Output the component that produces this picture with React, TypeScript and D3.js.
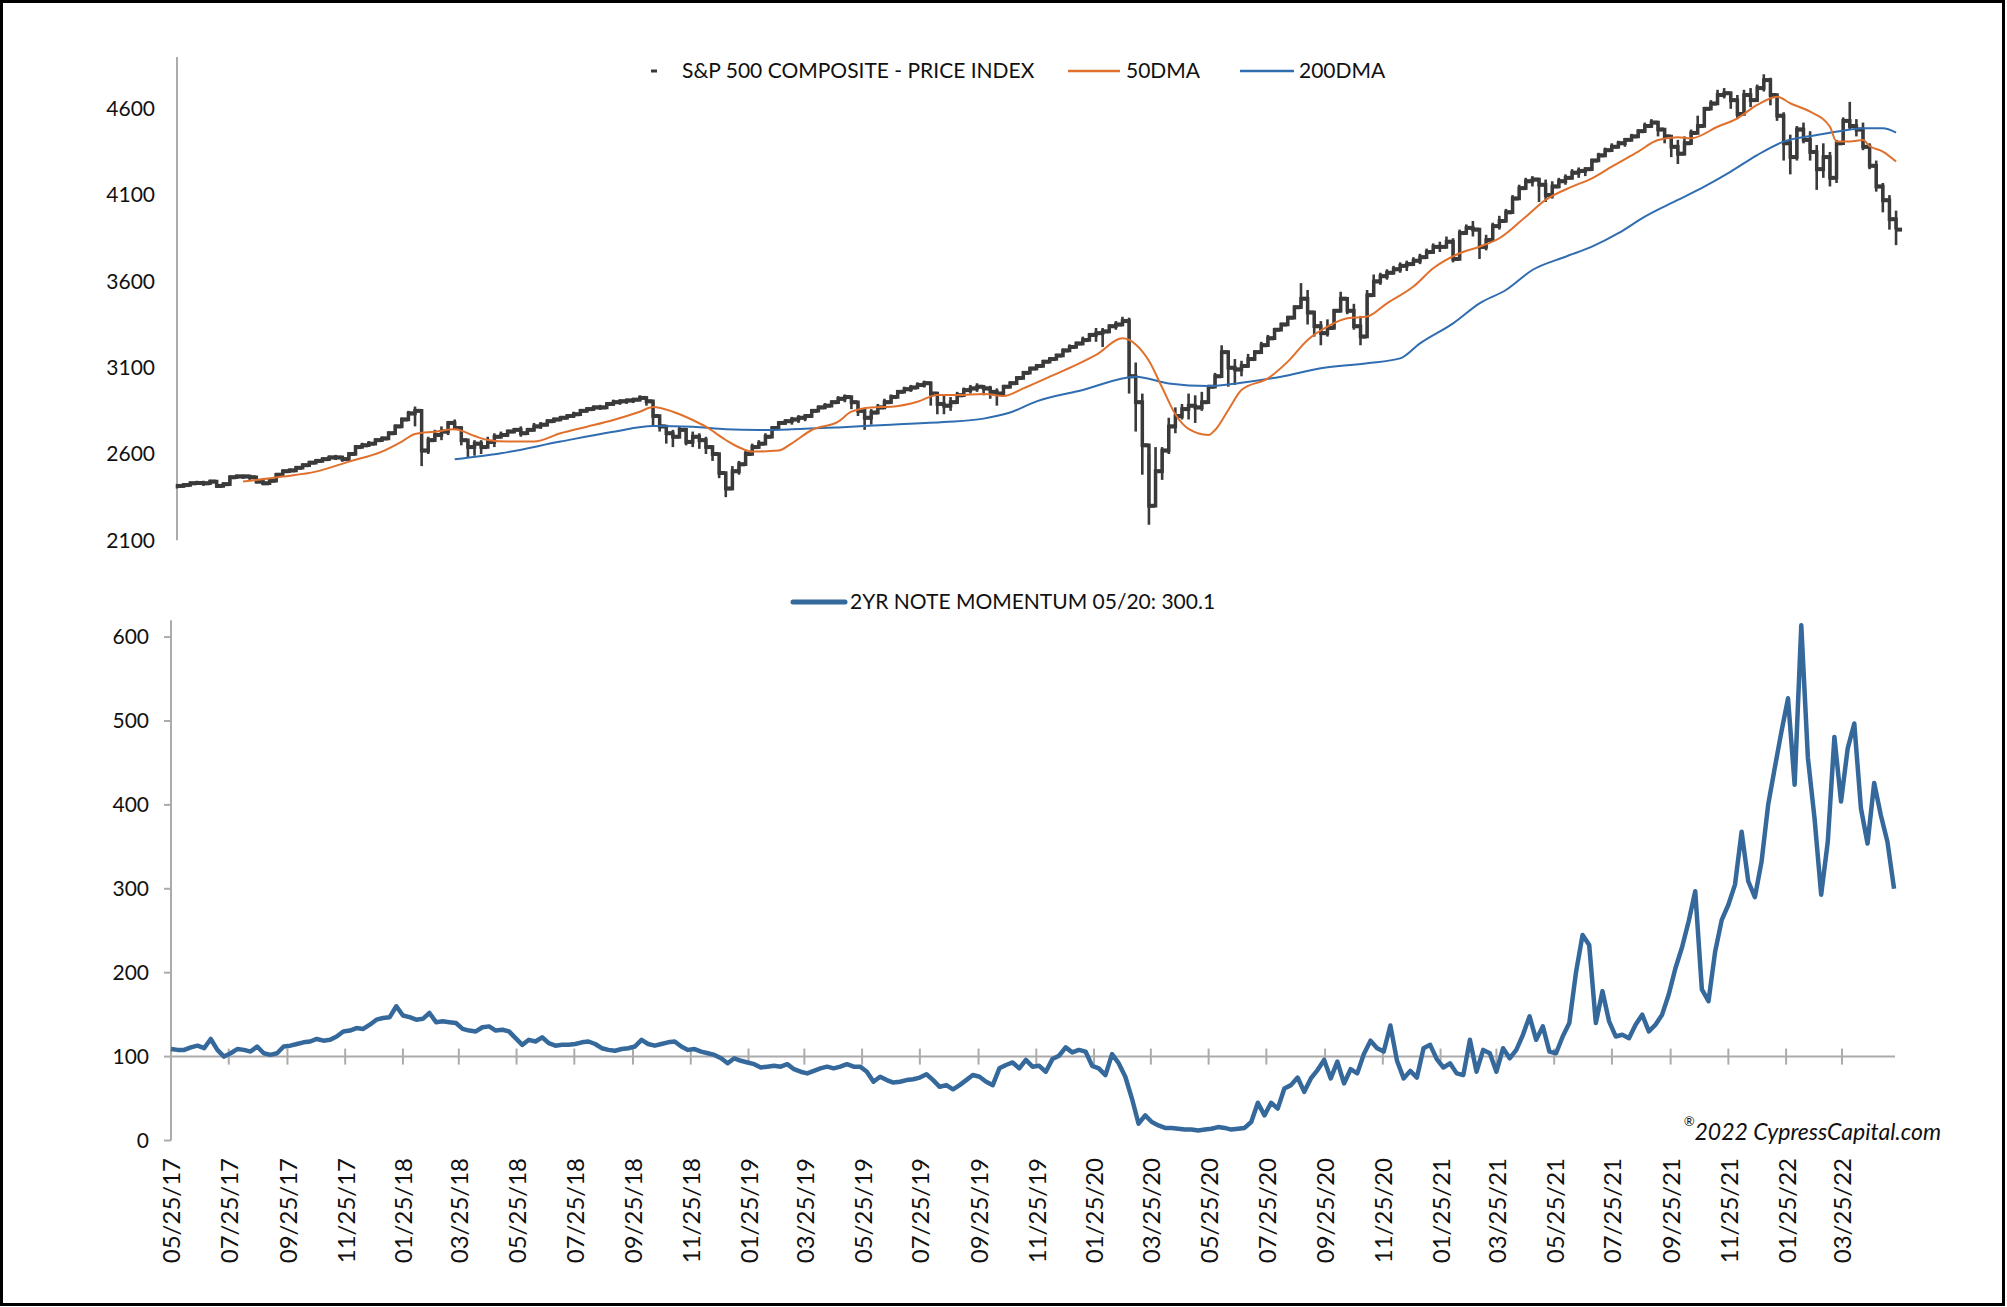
import React, { useEffect } from 'react';
import * as d3 from 'd3';

// weekly samples, week 0 = 05/25/17
const START = new Date(2017, 4, 25);
const END = new Date(2022, 4, 20);

const spxClose = [
  2415, 2420, 2430, 2432, 2430, 2440, 2415, 2425, 2465, 2470,
  2470, 2465, 2440, 2430, 2445, 2480, 2500, 2505, 2520, 2535,
  2550, 2560, 2570, 2580, 2580, 2570, 2600, 2640, 2650, 2660,
  2680, 2690, 2720, 2760, 2800, 2835, 2850, 2620, 2680, 2710,
  2730, 2780, 2750, 2680, 2640, 2660, 2640, 2670, 2700, 2710,
  2730, 2740, 2720, 2740, 2760, 2770, 2790, 2800, 2810, 2820,
  2830, 2850, 2860, 2870, 2870, 2890, 2900, 2905, 2910, 2915,
  2925, 2905, 2820, 2760, 2720, 2700, 2740, 2670, 2700, 2680,
  2640, 2600, 2490, 2400, 2500, 2540, 2600, 2640, 2660, 2700,
  2750, 2780, 2790, 2800, 2810, 2820, 2850, 2870, 2880, 2900,
  2920, 2930, 2900, 2850, 2810, 2840, 2870, 2900, 2930, 2960,
  2975, 2985, 3000, 3010, 2950, 2890, 2880, 2900, 2940, 2970,
  2980, 2990, 2980, 2960, 2950, 2990, 3010, 3040, 3070, 3095,
  3110, 3135, 3150, 3170, 3200, 3220, 3240, 3260, 3290, 3300,
  3310, 3340, 3350, 3370, 3050, 2900, 2650, 2300, 2500, 2620,
  2760, 2820, 2860, 2880, 2870, 2900, 2990, 3050, 3190, 3100,
  3090, 3110, 3150, 3190, 3230, 3270, 3320, 3350, 3390, 3450,
  3500, 3420, 3340, 3300, 3330, 3430, 3500, 3430, 3340, 3280,
  3520, 3600, 3630, 3650, 3670, 3690, 3700, 3720, 3740, 3770,
  3800, 3800, 3830, 3730, 3880, 3910, 3900, 3800, 3840, 3920,
  3950, 4000, 4080, 4140, 4180, 4190, 4160, 4100, 4150, 4180,
  4200, 4230, 4240, 4250, 4300, 4330, 4360, 4380, 4400, 4420,
  4440, 4470, 4500, 4520, 4480, 4440, 4380, 4340, 4400, 4460,
  4500, 4600, 4630, 4680, 4690, 4650, 4570, 4680, 4650, 4720,
  4766, 4680, 4560, 4400, 4320, 4480, 4420, 4350, 4250, 4320,
  4200, 4400, 4530, 4500, 4480, 4380, 4270, 4150, 4070, 3960, 3900,
];

const spxHigh = [
  2425, 2432, 2440, 2445, 2445, 2450, 2440, 2435, 2475, 2480,
  2480, 2480, 2470, 2450, 2455, 2490, 2505, 2515, 2530, 2545,
  2560, 2570, 2580, 2590, 2595, 2590, 2610, 2650, 2665, 2675,
  2690, 2700, 2730, 2770, 2810, 2850, 2875, 2780, 2700, 2740,
  2760, 2790, 2800, 2760, 2680, 2680, 2680, 2700, 2720, 2730,
  2740, 2750, 2760, 2750, 2780, 2785, 2800, 2810, 2820, 2830,
  2845, 2860, 2870, 2880, 2885, 2900, 2915, 2915, 2920, 2925,
  2940, 2935, 2900, 2810, 2760, 2740, 2760, 2750, 2730, 2720,
  2700, 2650, 2600, 2480, 2530, 2560, 2620, 2660, 2680, 2720,
  2760, 2790, 2800, 2815, 2825, 2830, 2860, 2880, 2895, 2910,
  2935, 2945, 2935, 2890, 2850, 2860, 2890, 2920, 2945, 2970,
  2990, 3000, 3015, 3025, 3020, 2960, 2940, 2930, 2960, 2985,
  3000, 3010, 3000, 2995, 2980, 3000, 3020, 3050, 3080, 3100,
  3120, 3145, 3160, 3180, 3210, 3235, 3250, 3280, 3300, 3330,
  3330, 3350, 3370, 3395, 3390, 3130, 2950, 2600, 2640, 2640,
  2810, 2870, 2890, 2950, 2940, 2960, 3000, 3070, 3230, 3200,
  3150, 3140, 3180, 3200, 3250, 3290, 3330, 3360, 3400, 3460,
  3590, 3550, 3430, 3370, 3380, 3440, 3540, 3510, 3470, 3400,
  3550, 3640, 3650, 3670, 3690, 3710, 3720, 3740, 3760, 3790,
  3820, 3830, 3860, 3850, 3900, 3930, 3950, 3900, 3870, 3940,
  3980, 4020, 4100, 4160, 4200, 4210, 4200, 4190, 4180, 4200,
  4220, 4250, 4260, 4260, 4310, 4345, 4375, 4400, 4415, 4430,
  4455, 4480, 4520, 4540, 4530, 4480, 4440, 4420, 4440, 4480,
  4560, 4610, 4650, 4710, 4720, 4700, 4680, 4710, 4720, 4740,
  4800, 4780, 4680, 4580, 4450, 4500, 4520, 4470, 4390, 4400,
  4350, 4420, 4550, 4640, 4540, 4520, 4400, 4300, 4170, 4100, 4010,
];

const spxLow = [
  2400, 2405, 2415, 2420, 2415, 2425, 2405, 2410, 2430, 2455,
  2455, 2450, 2430, 2420, 2425, 2450, 2480, 2490, 2500, 2520,
  2535, 2545, 2555, 2565, 2565, 2555, 2570, 2600, 2635, 2645,
  2660, 2675, 2690, 2720, 2760, 2800, 2760, 2530, 2600, 2680,
  2680, 2710, 2740, 2650, 2580, 2590, 2600, 2640, 2640, 2690,
  2700, 2720, 2700, 2710, 2730, 2745, 2760, 2780, 2790, 2800,
  2810, 2830, 2840, 2850, 2855, 2865, 2880, 2885, 2890, 2895,
  2905, 2880, 2760, 2730, 2660, 2640, 2690, 2650, 2640, 2630,
  2600, 2560, 2460, 2350, 2390, 2480, 2560, 2600, 2630, 2670,
  2710, 2750, 2770, 2770, 2780, 2790, 2810, 2845, 2860, 2880,
  2900, 2900, 2860, 2820, 2740, 2770, 2830, 2860, 2900, 2930,
  2955, 2960, 2980, 2985, 2880, 2830, 2830, 2850, 2900, 2930,
  2950, 2960, 2940, 2920, 2880, 2940, 2980, 3010, 3040, 3070,
  3085, 3110, 3130, 3145, 3175, 3200, 3215, 3230, 3270, 3250,
  3220, 3300, 3320, 3340, 2950, 2730, 2480, 2190, 2330, 2450,
  2600, 2720, 2800, 2800, 2780, 2850, 2890, 2990, 3040, 2990,
  3000, 3050, 3100, 3140, 3180, 3230, 3280, 3320, 3350, 3390,
  3460, 3350, 3280, 3230, 3280, 3330, 3420, 3410, 3320, 3230,
  3300, 3520, 3580, 3610, 3640, 3650, 3660, 3690, 3700, 3730,
  3760, 3770, 3790, 3710, 3750, 3870, 3860, 3730, 3780, 3840,
  3900, 3950, 4020, 4090, 4140, 4150, 4060, 4060, 4080, 4140,
  4160, 4190, 4200, 4210, 4250, 4300, 4330, 4350, 4370, 4380,
  4410, 4440, 4470, 4490, 4440, 4400, 4320, 4280, 4330, 4400,
  4460, 4530, 4600, 4640, 4660, 4600, 4540, 4590, 4610, 4660,
  4700, 4620, 4530, 4300, 4220, 4300, 4400, 4300, 4130, 4200,
  4150, 4170, 4390, 4480, 4440, 4360, 4250, 4120, 4000, 3900, 3810,
];

// moving averages, read at irregular week numbers
const dma50Week = [
  10, 16, 21, 26, 31, 34, 36, 39, 42, 45, 47, 50, 54, 58, 62, 66, 70, 72, 75, 78,
  80, 83, 85, 87, 91, 93, 96, 100, 102, 105, 108, 112, 115, 118, 122, 125, 128, 132, 136, 139,
  143, 145, 147, 149, 151, 153, 156, 157, 159, 161, 165, 168, 171, 174, 177, 180, 183, 187, 190, 194,
  197, 200, 204, 207, 211, 214, 217, 221, 224, 227, 229, 233, 236, 239, 242, 244, 247, 250, 251, 253,
  255, 256, 258, 260,
];
const dma50 = [
  2440, 2469, 2498, 2556, 2614, 2672, 2716, 2729, 2743, 2704, 2681, 2672, 2672, 2720, 2758, 2797, 2845, 2872, 2845, 2797,
  2758, 2681, 2639, 2614, 2620, 2662, 2739, 2787, 2845, 2870, 2874, 2903, 2942, 2942, 2948, 2936, 2980, 3048, 3116, 3174,
  3270, 3235, 3140, 2985, 2830, 2745, 2710, 2739, 2855, 2971, 3038, 3135, 3261, 3338, 3386, 3396, 3473, 3570, 3676, 3763,
  3801, 3850, 3975, 4072, 4149, 4197, 4265, 4352, 4419, 4435, 4429, 4496, 4545, 4622, 4670, 4632, 4583, 4496, 4410, 4410,
  4419, 4384, 4352, 4294,
];

const dma200Week = [
  42, 49, 58, 66, 72, 78, 83, 88, 93, 100, 108, 116, 122, 126, 130, 137, 145, 150, 156, 161,
  167, 173, 180, 185, 188, 193, 197, 201, 205, 210, 214, 218, 222, 227, 231, 235, 239, 243, 248, 252,
  255, 258, 260,
];
const dma200 = [
  2569, 2604, 2672, 2729, 2762, 2758, 2743, 2739, 2743, 2754, 2770, 2785, 2805, 2840, 2905, 2971, 3048, 3009, 2994, 3013,
  3048, 3097, 3126, 3154, 3241, 3357, 3473, 3550, 3666, 3743, 3801, 3879, 3975, 4072, 4149, 4236, 4332, 4410, 4448, 4473,
  4487, 4487, 4462,
];

const momentum = [
  109, 108, 108, 111, 113, 110, 121, 108, 100, 104,
  109, 108, 106, 112, 104, 102, 104, 112, 113, 115,
  117, 118, 121, 119, 120, 124, 130, 131, 134, 133,
  138, 144, 146, 147, 160, 149, 147, 144, 145, 152,
  141, 142, 141, 140, 133, 131, 130, 135, 136, 131,
  132, 130, 122, 114, 120, 118, 123, 116, 113, 114,
  114, 115, 117, 118, 115, 110, 108, 107, 109, 110,
  112, 120, 115, 113, 115, 117, 118, 112, 108, 109,
  106, 104, 102, 98, 92, 98, 95, 93, 91, 87,
  88, 89, 88, 91, 85, 82, 80, 83, 86, 88,
  86, 88, 91, 88, 88, 82, 70, 76, 72, 69,
  70, 72, 73, 75, 79, 72, 64, 66, 61, 66,
  72, 78, 76, 70, 66, 86, 90, 93, 86, 96,
  88, 89, 82, 97, 101, 111, 105, 108, 106, 89,
  86, 78, 103, 92, 76, 50, 20, 30, 22, 18,
  15, 15, 14, 13, 13, 12, 13, 14, 16, 15,
  13, 14, 15, 22, 45, 30, 45, 38, 62, 66,
  75, 58, 74, 84, 96, 74, 94, 68, 85, 80,
  103, 119, 110, 106, 137, 95, 74, 83, 75, 110,
  114, 97, 87, 92, 80, 78, 120, 82, 108, 104,
  82, 110, 98, 108, 126, 148, 120, 136, 106, 104,
  124, 140, 200, 245, 233, 140, 178, 142, 124, 126,
  122, 138, 150, 130, 138, 150, 174, 205, 230, 261,
  297, 180, 166, 225, 263, 281, 305, 368, 309, 290,
  332, 400, 444, 487, 527, 424, 614, 456, 384, 293,
  356, 481, 404, 467, 497, 396, 354, 426, 388, 356, 300,
];

const spxTicks = [2100, 2600, 3100, 3600, 4100, 4600];
const momTicks = [0, 100, 200, 300, 400, 500, 600];

const weekDate = (i: number) => d3.timeDay.offset(START, 7 * i);

const FONT = "Lato, 'Open Sans', sans-serif";
const GRID = '#ABABAB';
const ORANGE = '#E0702C';
const BLUE = '#2F6DB0';
const MOM = '#35689B';
const INK = '#3A3A3A';

export default function App() {
  useEffect(() => {
    document.body.style.margin = '0';
  }, []);

  // top panel
  const xU = d3.scaleTime().domain([START, END]).range([177, 1897]);
  const yU = d3.scaleLinear().domain([2100, 4900]).range([540.3, 57]);
  // bottom panel
  const xL = d3.scaleTime().domain([START, END]).range([171, 1895]);
  const yL = d3.scaleLinear().domain([0, 620]).range([1140.5, 620.3]);

  const maLine = d3.line<[number, number]>()
    .x(d => xU(weekDate(d[0])))
    .y(d => yU(d[1]))
    .curve(d3.curveMonotoneX);

  const closeLine = d3.line<number>()
    .x((d, i) => xU(weekDate(i)))
    .y(d => yU(d))
    .curve(d3.curveStepAfter);

  const momLine = d3.line<number>()
    .x((d, i) => xL(weekDate(i)))
    .y(d => yL(d));

  const xTicks = d3.timeMonth.every(2)!
    .range(new Date(2017, 4, 1), new Date(2022, 3, 2))
    .map(d => new Date(d.getFullYear(), d.getMonth(), 25));
  const fmt = d3.timeFormat('%m/%d/%y');

  const y100 = yL(100);

  return (
    <svg width={2007} height={1307} style={{ display: 'block' }} fontFamily={FONT}>
      <rect x={1.5} y={1.5} width={2002} height={1303} fill="#fff" stroke="#000" strokeWidth={3} />

      {/* ---- S&P 500 panel ---- */}
      <line x1={177} x2={177} y1={yU(4900)} y2={yU(2100)} stroke={GRID} strokeWidth={2} />
      {spxTicks.map(t => (
        <text key={t} x={155} y={yU(t)} dy="0.35em" textAnchor="end" fontSize={21} fill="#111">{t}</text>
      ))}

      <path d={closeLine(spxClose)!} fill="none" stroke={INK} strokeWidth={3.5} />
      <g stroke={INK}>
        {spxClose.map((c, i) => {
          const x = xU(weekDate(i));
          return (
            <g key={i}>
              <line x1={x} x2={x} y1={yU(spxLow[i])} y2={yU(spxHigh[i])} strokeWidth={2.6} />
              <line x1={x - 1} x2={x + 6} y1={yU(c)} y2={yU(c)} strokeWidth={4} />
            </g>
          );
        })}
      </g>

      <path d={maLine(dma200Week.map((w, i) => [w, dma200[i]]))!} fill="none" stroke={BLUE} strokeWidth={2} />
      <path d={maLine(dma50Week.map((w, i) => [w, dma50[i]]))!} fill="none" stroke={ORANGE} strokeWidth={2} />

      {/* legend */}
      <g fontSize={21} fill="#111">
        <rect x={651} y={69.5} width={6} height={3} fill={INK} />
        <text x={682} y={71} dy="0.35em">S&amp;P 500 COMPOSITE - PRICE INDEX</text>
        <line x1={1068} x2={1120} y1={71} y2={71} stroke={ORANGE} strokeWidth={2.5} />
        <text x={1126} y={71} dy="0.35em">50DMA</text>
        <line x1={1240} x2={1294} y1={71} y2={71} stroke={BLUE} strokeWidth={2.5} />
        <text x={1299} y={71} dy="0.35em">200DMA</text>
      </g>

      {/* ---- momentum panel ---- */}
      <line x1={171} x2={171} y1={yL(620)} y2={yL(0)} stroke={GRID} strokeWidth={2} />
      {momTicks.map(t => (
        <g key={t}>
          <line x1={164} x2={171} y1={yL(t)} y2={yL(t)} stroke={GRID} strokeWidth={2} />
          <text x={149} y={yL(t)} dy="0.35em" textAnchor="end" fontSize={21} fill="#111">{t}</text>
        </g>
      ))}
      <line x1={171} x2={1895} y1={y100} y2={y100} stroke={GRID} strokeWidth={2} />
      {xTicks.map(d => (
        <g key={+d}>
          <line x1={xL(d)} x2={xL(d)} y1={y100 - 8} y2={y100 + 8} stroke={GRID} strokeWidth={2} />
          <text
            transform={`translate(${xL(d) + 1},1158) rotate(-90)`}
            dy="0.35em"
            textAnchor="end"
            fontSize={24}
            fill="#111"
          >{fmt(d)}</text>
        </g>
      ))}

      <path d={momLine(momentum)!} fill="none" stroke={MOM} strokeWidth={4.5} strokeLinejoin="round" />

      <g fontSize={21} fill="#111">
        <line x1={793} x2={845} y1={602} y2={602} stroke={MOM} strokeWidth={5} strokeLinecap="round" />
        <text x={850} y={602} dy="0.35em">2YR NOTE MOMENTUM 05/20: 300.1</text>
      </g>

      <text x={1941} y={1134} dy="0.35em" textAnchor="end" fontSize={23} fontStyle="italic" fill="#111">
        <tspan fontSize={13} dy="-0.6em">®</tspan>
        <tspan dy="0.6em">2022 CypressCapital.com</tspan>
      </text>
    </svg>
  );
}
